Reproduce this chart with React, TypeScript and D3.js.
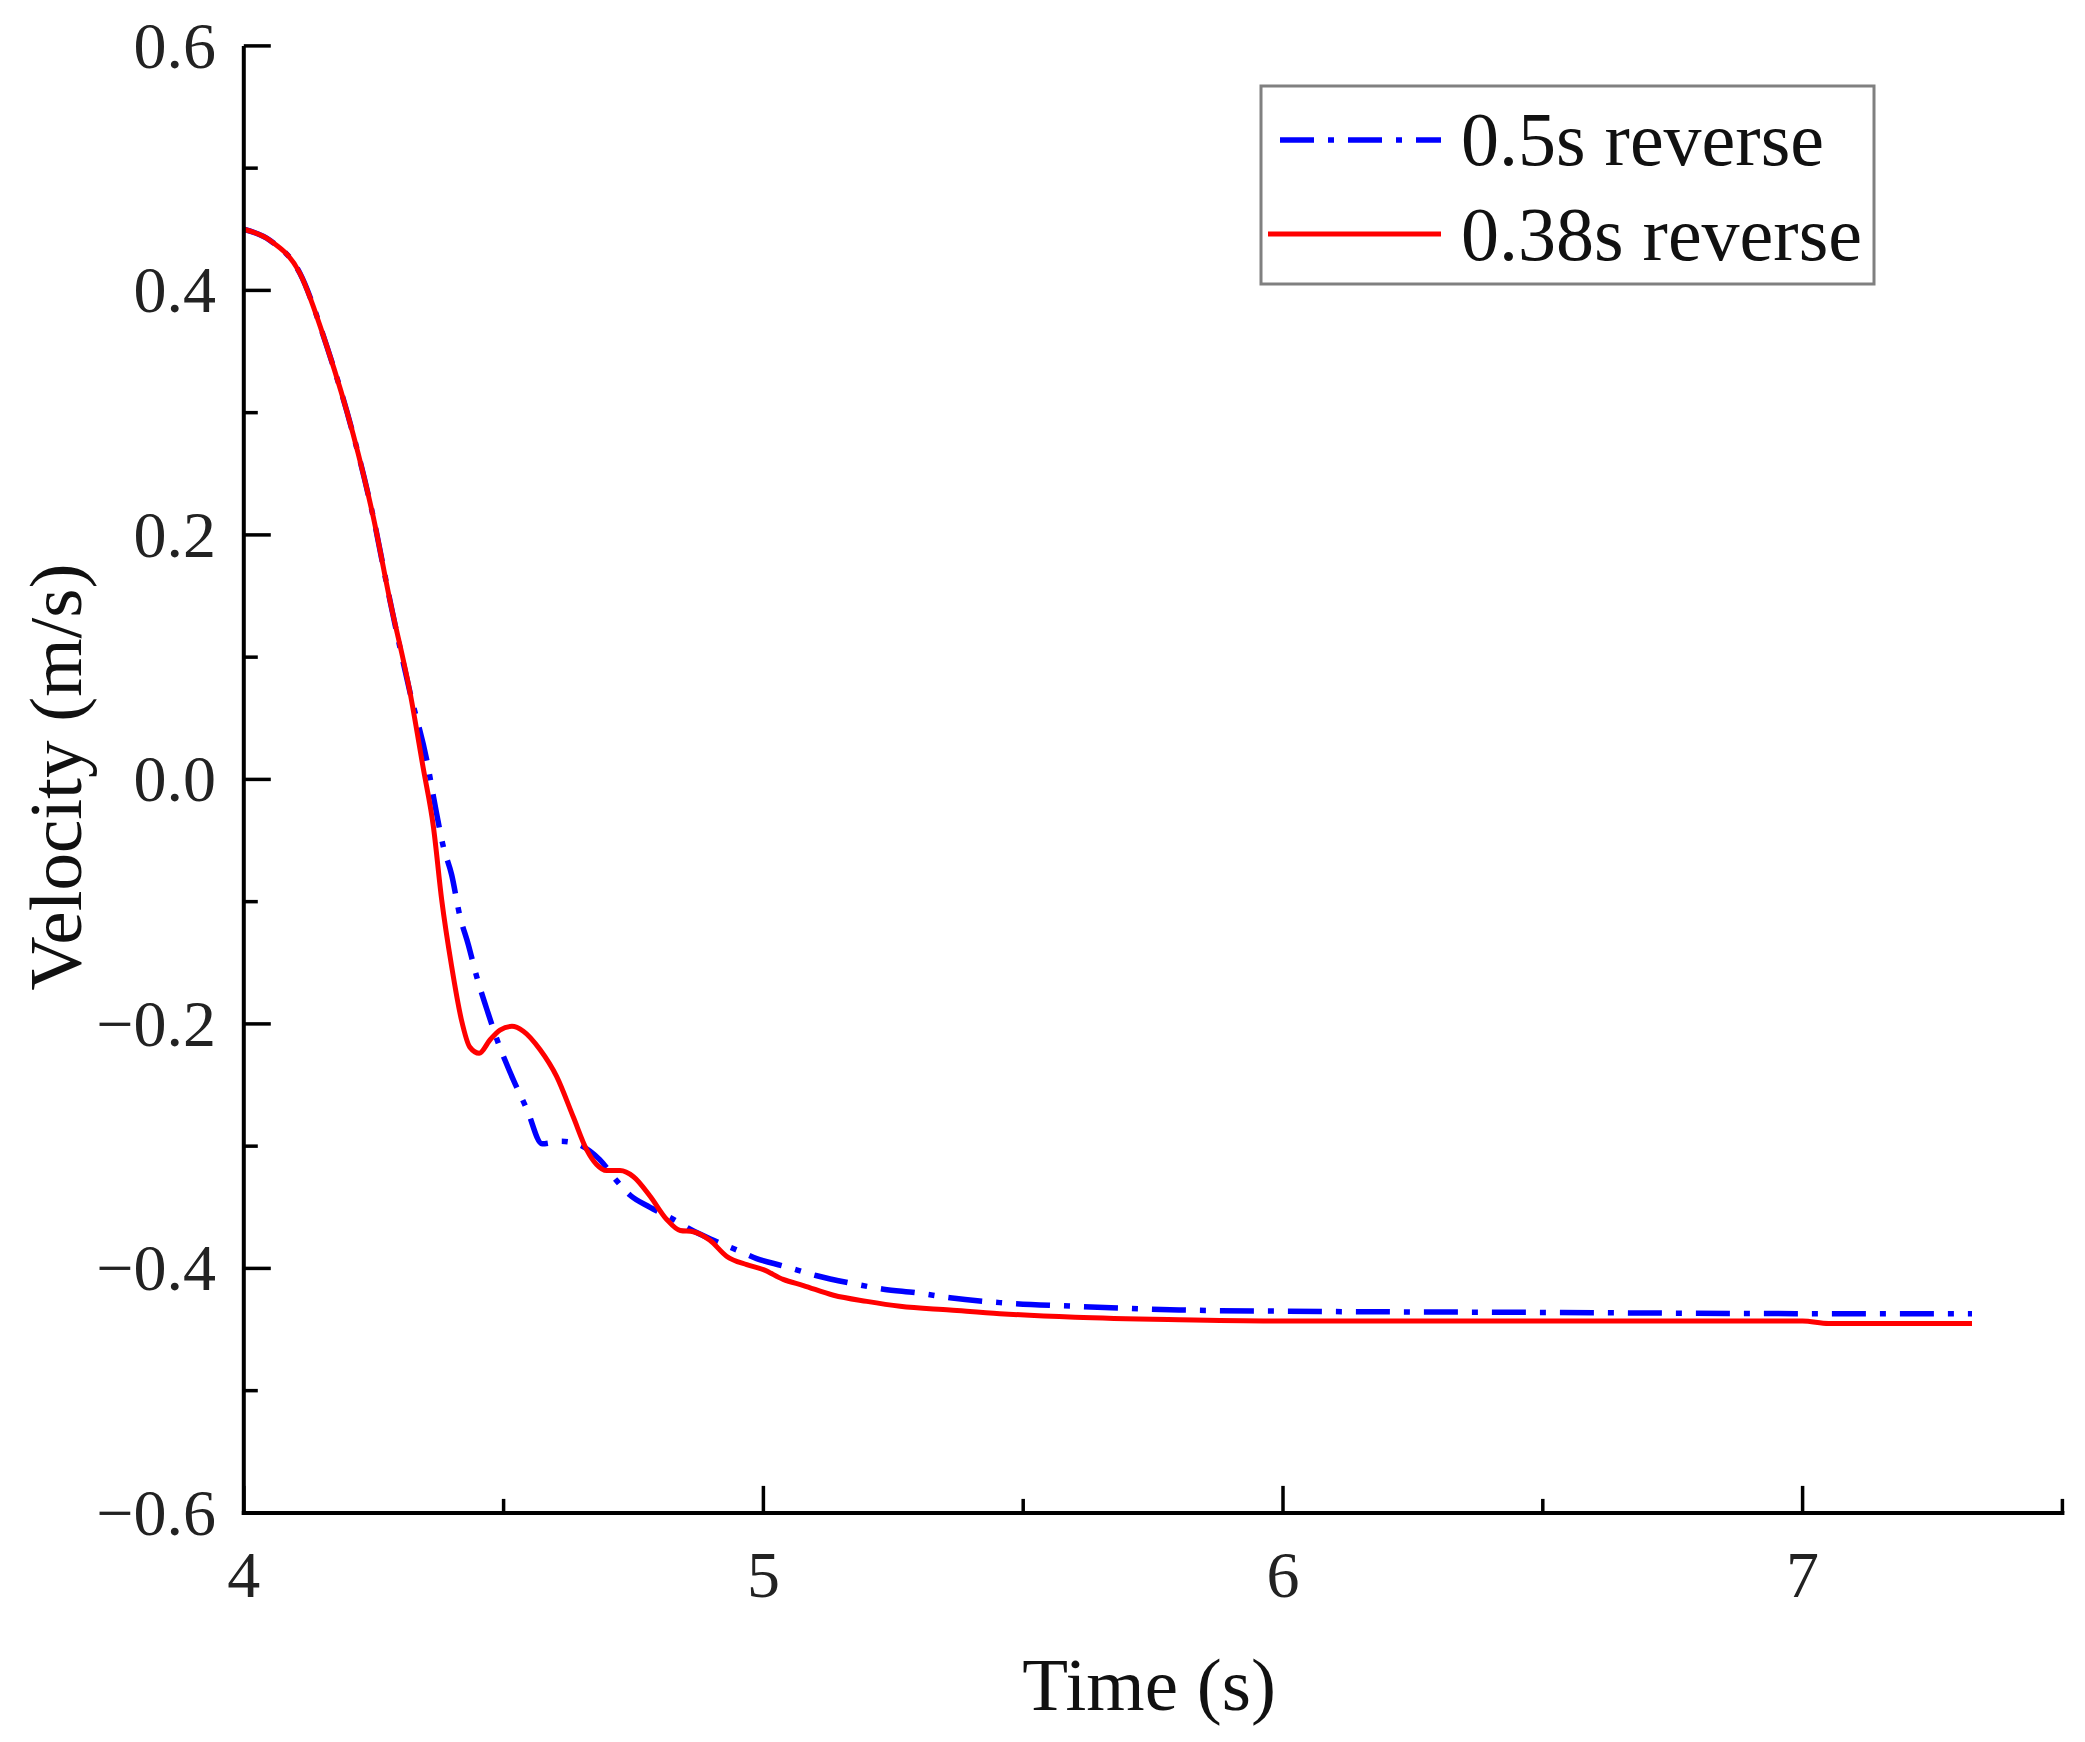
import * as d3 from "d3";

// 0.38s reverse (solid red)
const timeRed = [
  4.0, 4.05, 4.108, 4.16, 4.21, 4.249, 4.281, 4.32, 4.345, 4.365, 4.381, 4.4,
  4.419, 4.435, 4.453, 4.474, 4.493, 4.516, 4.538, 4.57, 4.602, 4.634, 4.66,
  4.679, 4.698, 4.724, 4.75, 4.782, 4.814, 4.84, 4.865, 4.897, 4.929, 4.968,
  5.0, 5.038, 5.077, 5.135, 5.199, 5.263, 5.359, 5.455, 5.6, 5.8, 6.0, 6.5,
  7.0, 7.05, 7.326,
];
const velRed = [
  0.45, 0.441, 0.414, 0.354, 0.283, 0.215, 0.147, 0.071, 0.01, -0.039, -0.099,
  -0.153, -0.197, -0.219, -0.224, -0.213, -0.205, -0.202, -0.206, -0.221,
  -0.243, -0.276, -0.303, -0.315, -0.32, -0.32, -0.325, -0.341, -0.36, -0.369,
  -0.37, -0.377, -0.39, -0.397, -0.401, -0.409, -0.414, -0.422, -0.427, -0.431,
  -0.434, -0.437, -0.44, -0.442, -0.443, -0.443, -0.443, -0.445, -0.445,
];

// 0.5s reverse (blue dash-dot)
const timeBlue = [
  4.0, 4.05, 4.108, 4.16, 4.21, 4.249, 4.281, 4.32, 4.352, 4.368, 4.384, 4.4,
  4.416, 4.432, 4.448, 4.47, 4.49, 4.503, 4.519, 4.545, 4.574, 4.611, 4.64,
  4.685, 4.717, 4.743, 4.782, 4.827, 4.859, 4.904, 4.949, 4.987, 5.038, 5.103,
  5.167, 5.231, 5.295, 5.359, 5.455, 5.6, 5.8, 6.0, 6.5, 7.0, 7.326,
];
const velBlue = [
  0.45, 0.441, 0.414, 0.354, 0.283, 0.215, 0.147, 0.071, 0.016, -0.021, -0.055,
  -0.078, -0.112, -0.135, -0.161, -0.191, -0.216, -0.23, -0.246, -0.27, -0.298,
  -0.296, -0.298, -0.311, -0.328, -0.34, -0.35, -0.36, -0.368, -0.377, -0.385,
  -0.392, -0.398, -0.406, -0.412, -0.417, -0.42, -0.424, -0.428, -0.431,
  -0.434, -0.435, -0.436, -0.437, -0.437,
];

const xMajor = [4, 5, 6, 7];
const xMinor = [4.5, 5.5, 6.5, 7.5];
const yMajor = [-0.6, -0.4, -0.2, 0.0, 0.2, 0.4, 0.6];
const yMinor = [-0.5, -0.3, -0.1, 0.1, 0.3, 0.5];

const seriesNames = ["0.5s reverse", "0.38s reverse"];

const W = 2085;
const H = 1742;
const FONT = "'Liberation Serif', 'Times New Roman', serif";
const DASH = "34 14 6 14";

export default function App() {
  const x = d3.scaleLinear().domain([4, 7.5]).range([243.8, 2062.4]);
  const y = d3.scaleLinear().domain([-0.6, 0.6]).range([1512.9, 45.9]);

  const line = d3
    .line<[number, number]>()
    .x((d) => x(d[0]))
    .y((d) => y(d[1]))
    .curve(d3.curveMonotoneX);

  const redPts = timeRed.map((t, i) => [t, velRed[i]] as [number, number]);
  const bluePts = timeBlue.map((t, i) => [t, velBlue[i]] as [number, number]);

  const x0 = x(4);
  const y0 = y(-0.6);
  const fmtY = (v: number) => {
    const s = Math.abs(v).toFixed(1);
    return v < -1e-9 ? "\u2212" + s : s;
  };

  return (
    <div style={{ position: "absolute", left: 0, top: 0 }}>
      <svg width={W} height={H} style={{ display: "block", background: "#fff" }}>
        {/* curves */}
        <path
          d={line(bluePts) ?? ""}
          fill="none"
          stroke="#0000ff"
          strokeWidth={5.5}
          strokeDasharray={DASH}
        />
        <path
          d={line(redPts) ?? ""}
          fill="none"
          stroke="#ff0000"
          strokeWidth={5}
        />

        {/* axes */}
        <line x1={x0} x2={x0} y1={y(0.6)} y2={y0 + 2} stroke="#000" strokeWidth={4} />
        <line x1={x0 - 2} x2={x(7.5) + 2} y1={y0} y2={y0} stroke="#000" strokeWidth={4} />

        {yMajor.map((v) => (
          <line key={"ym" + v} x1={x0} x2={x0 + 27} y1={y(v)} y2={y(v)} stroke="#000" strokeWidth={3.5} />
        ))}
        {yMinor.map((v) => (
          <line key={"yn" + v} x1={x0} x2={x0 + 14} y1={y(v)} y2={y(v)} stroke="#000" strokeWidth={3.5} />
        ))}
        {xMajor.map((v) => (
          <line key={"xm" + v} x1={x(v)} x2={x(v)} y1={y0} y2={y0 - 27} stroke="#000" strokeWidth={3.5} />
        ))}
        {xMinor.map((v) => (
          <line key={"xn" + v} x1={x(v)} x2={x(v)} y1={y0} y2={y0 - 14} stroke="#000" strokeWidth={3.5} />
        ))}

        {yMajor.map((v) => (
          <text
            key={"yl" + v}
            x={216}
            y={y(v) + 22}
            textAnchor="end"
            fontFamily={FONT}
            fontSize={66}
            fill="#222"
          >
            {fmtY(v)}
          </text>
        ))}
        {xMajor.map((v) => (
          <text
            key={"xl" + v}
            x={x(v)}
            y={1597}
            textAnchor="middle"
            fontFamily={FONT}
            fontSize={66}
            fill="#222"
          >
            {v}
          </text>
        ))}

        {/* axis titles */}
        <text
          x={(x0 + x(7.5)) / 2 - 4}
          y={1710}
          textAnchor="middle"
          fontFamily={FONT}
          fontSize={75}
          fill="#111"
        >
          Time (s)
        </text>
        <text
          transform={`translate(81, 777) rotate(-90)`}
          textAnchor="middle"
          fontFamily={FONT}
          fontSize={75}
          fill="#111"
        >
          Velocity (m/s)
        </text>

        {/* legend */}
        <rect x={1261} y={86} width={613} height={198} fill="#fff" stroke="#808080" strokeWidth={3} />
        <line x1={1268} x2={1441} y1={140} y2={140} stroke="#0000ff" strokeWidth={5.5} strokeDasharray={DASH} strokeDashoffset={-12} />
        <line x1={1268} x2={1441} y1={234} y2={234} stroke="#ff0000" strokeWidth={5} />
        <text x={1461} y={165} fontFamily={FONT} fontSize={76} fill="#111">
          {seriesNames[0]}
        </text>
        <text x={1461} y={260} fontFamily={FONT} fontSize={76} fill="#111">
          {seriesNames[1]}
        </text>
      </svg>
    </div>
  );
}
